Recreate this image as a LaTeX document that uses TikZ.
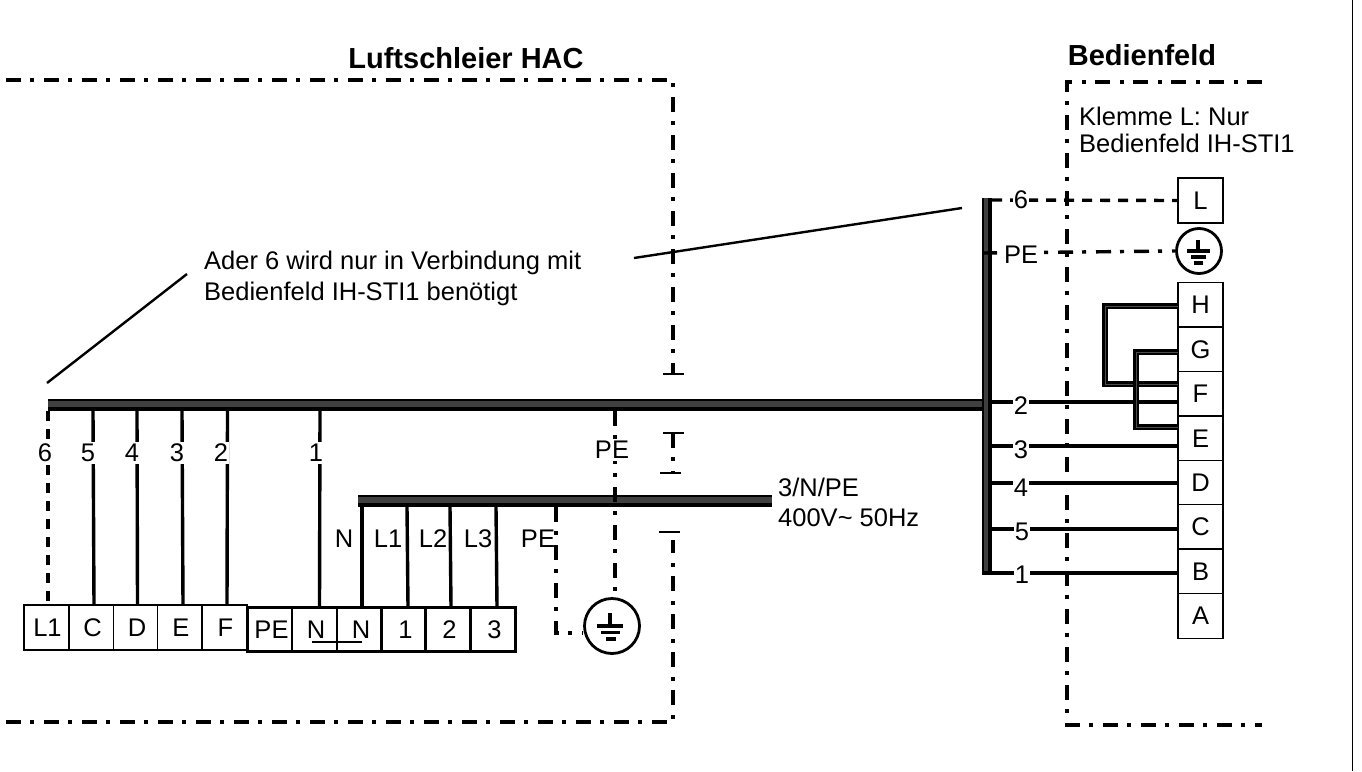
\documentclass[tikz,border=0pt]{standalone}
\usepackage{fontspec}
\setmainfont{Liberation Sans}
\tikzset{
  x=1pt,y=-1pt,
  wire/.style={line width=3.4pt,black},
  dashwire/.style={line width=3.4pt,black,dash pattern=on 10pt off 8pt},
  pewire/.style={line width=3.4pt,black,dash pattern=on 15pt off 9pt on 4pt off 10pt},
  frameline/.style={line width=4.2pt,black,dash pattern=on 15pt off 9pt on 4pt off 10pt},
  capline/.style={line width=2.4pt,black},
  term/.style={draw=black,line width=1.6pt,fill=white,minimum width=45pt,minimum height=45pt,inner sep=0pt,font=\fontsize{25.5}{25.5}\selectfont},
  term2/.style={term,line width=2.2pt},
  lab/.style={font=\fontsize{25.5}{25.5}\selectfont,inner sep=0pt},
  wlab/.style={lab,fill=white,inner xsep=1pt,inner ysep=2pt},
  txt/.style={font=\fontsize{25.5}{30.5}\selectfont,inner sep=0pt,anchor=west,align=left},
  txtb/.style={font=\fontsize{25.5}{27}\selectfont,inner sep=0pt,anchor=west,align=left},
  head/.style={font=\fontsize{29}{29}\selectfont\bfseries,inner sep=0pt},
  gnd/.style={draw=black,line width=2.8pt,fill=white,circle,inner sep=0pt},
  gbar/.style={line width=3.4pt,black},
  leader/.style={line width=2.4pt,black},
  busfill/.style={fill=black!75,draw=none}
}
\begin{document}
\begin{tikzpicture}
\useasboundingbox (0,0) rectangle (1362,771);
\fill[white] (0,0) rectangle (1362,771);
% frames
\coordinate (fa) at (6,80); \coordinate (fb) at (673,80); \coordinate (fc) at (673,374);
\coordinate (fd) at (673,433); \coordinate (fe) at (673,473);
\coordinate (ff) at (673,540); \coordinate (fg) at (673,722); \coordinate (fh) at (6,722);
\draw[frameline] (fa) -- (fb) -- (fc);
\draw[frameline] (fd) -- (fe);
\draw[frameline] (fh) -- (fg) -- (ff);
\draw[capline] (663,374) -- (684,374);
\draw[capline] (663,433) -- (684,433);
\draw[capline] (660,473) -- (681,473);
\draw[capline] (659,532) -- (680,532);
\coordinate (ga) at (1262,82); \coordinate (gb) at (1067,82); \coordinate (gc) at (1067,725); \coordinate (gd) at (1262,725);
\draw[frameline] (ga) -- (gb) -- (gc) -- (gd);
\coordinate (ra) at (1352.5,0); \coordinate (rb) at (1352.5,771);
\draw[line width=1.6pt] (ra) -- (rb);
% buses
\fill[busfill] (48,399) rectangle (982,411);
\draw[line width=2.2pt] (48,400) -- (982,400);
\draw[line width=3.8pt] (48,409) -- (982,409);
\fill[busfill] (358,495) rectangle (772,507);
\draw[line width=2.2pt] (358,496) -- (772,496);
\draw[line width=3.8pt] (358,505) -- (772,505);
\fill[busfill] (982,198) rectangle (992,573);
\draw[line width=2pt] (983,198) -- (983,573);
\draw[line width=3.8pt] (990,198) -- (990,573);
% terminals row 1
\foreach \n/\t/\cx in {tl1/L1/46.5,tc/C/91.5,td/D/136,te/E/180,tf/F/224.5}{
  \node[term,minimum height=45pt] (\n) at (\cx,627.5) {\hspace{2pt}\t};
}
\foreach \n/\t/\cx in {tpe/PE/270,tn1/N/314.5,tn2/N/359.5,t1/1/404,t2/2/448,t3/3/493}{
  \node[term2,minimum height=44pt] (\n) at (\cx,629.5) {\hspace{3pt}\t};
}
\draw[line width=2.2pt] (312,642) -- (362,642);
% terminals right
\node[term] (rl) at (1200.5,200.5) {L};
\foreach \n/\t/\cy in {rh/H/305,rg/G/349.5,rf/F/394,re/E/438.5,rd/D/483,rc/C/527,rb2/B/571.5,ra2/A/616}{
  \node[term] (\n) at (1200.5,\cy) {\t};
}
% ground symbols
\node[gnd,minimum size=55pt] (g1) at (612,626) {};
\draw[gbar] (610,613) -- (610,626);
\draw[gbar] (597,626) -- (623,626);
\draw[gbar] (601,632.5) -- (620,632.5);
\draw[gbar] (606,639) -- (616,639);
\node[gnd,minimum size=45pt] (g2) at (1199,251) {};
\draw[gbar] (1198,240) -- (1198,251);
\draw[gbar] (1187,251) -- (1210,251);
\draw[gbar] (1191,257) -- (1206,257);
\draw[gbar] (1194,263) -- (1203,263);
% wires left
\coordinate (w6t) at (48,411);
\draw[dashwire] (w6t) -- (w6t |- tl1.north);
\draw[wire] (93,411) -- (94,605);
\draw[wire] (137,411) -- (137.5,605);
\draw[wire] (182,411) -- (183,605);
\draw[wire] (227.5,411) -- (227,605);
\draw[wire] (320,411) -- (319.5,607);
\node[wlab] (l6) at (45,453) {6};
\node[wlab] (l5) at (88,453) {5};
\node[wlab] (l4) at (132,453) {4};
\node[wlab] (l3) at (177,453) {3};
\node[wlab] (l2) at (221,453) {2};
\node[wlab] (l1) at (316,453) {1};
% mains wires
\draw[wire] (362,507) -- (362,607);
\draw[wire] (407,507) -- (408,607);
\draw[wire] (450,507) -- (451,607);
\draw[wire] (496,507) -- (497,607);
\node[lab] (mn) at (344,539) {N};
\node[lab] (ml1) at (388,539) {L1};
\node[lab] (ml2) at (433,539) {L2};
\node[lab] (ml3) at (478,539) {L3};
\coordinate (pa) at (556,507); \coordinate (pb) at (556,633);
\draw[pewire] (pa) -- (pb) -- (g1.west |- pb);
\node[lab] (mpe) at (538,539) {PE};
\coordinate (pc) at (615,411);
\draw[pewire] (pc) -- (pc |- g1.north);
\node[wlab] (lpe) at (612,450) {PE};
% wires right
\draw[dashwire] (992,200) -- (rl.west);
\draw[pewire] (982,253) -- (g2.west);
\draw[wire] (992,402) -- (1178,402);
\draw[wire] (992,446) -- (1178,446);
\draw[wire] (992,483) -- (1178,483);
\draw[wire] (992,529) -- (1178,529);
\draw[wire] (982,573) -- (1178,573);
\node[wlab] (r6) at (1021,200) {6};
\node[wlab] (rpe) at (1021,255) {PE};
\node[wlab] (r2) at (1021,406) {2};
\node[wlab] (r3) at (1021,450) {3};
\node[wlab] (r4) at (1021,488) {4};
\node[wlab] (r5) at (1022,532) {5};
\node[wlab] (r1) at (1022,575) {1};
% jumpers
\draw[line width=5.4pt] (1178,306) -- (1105,306) -- (1105,384) -- (1178,384);
\draw[line width=0.9pt,black!70] (1178,306) -- (1105,306) -- (1105,384) -- (1178,384);
\draw[line width=5.4pt] (1178,352) -- (1136,352) -- (1136,427) -- (1178,427);
\draw[line width=0.9pt,black!70] (1178,352) -- (1136,352) -- (1136,427) -- (1178,427);
% leaders and text
\coordinate (la) at (47,383); \coordinate (lb) at (187,274);
\coordinate (lc) at (634,258); \coordinate (ld) at (962,208);
\draw[leader] (la) -- (lb);
\draw[leader] (lc) -- (ld);
\node[txt] (note) at (204,278.5) {Ader 6 wird nur in Verbindung mit\\Bedienfeld IH-STI1 benötigt};
\node[head] (h1) at (466,58) {Luftschleier HAC};
\node[head] (h2) at (1142,55) {Bedienfeld};
\node[txtb] (kl) at (1079,130) {Klemme L: Nur\\Bedienfeld IH-STI1};
\node[txt] (sup) at (778,502.5) {3/N/PE\\400V\textasciitilde{} 50Hz};
\end{tikzpicture}
\end{document}
